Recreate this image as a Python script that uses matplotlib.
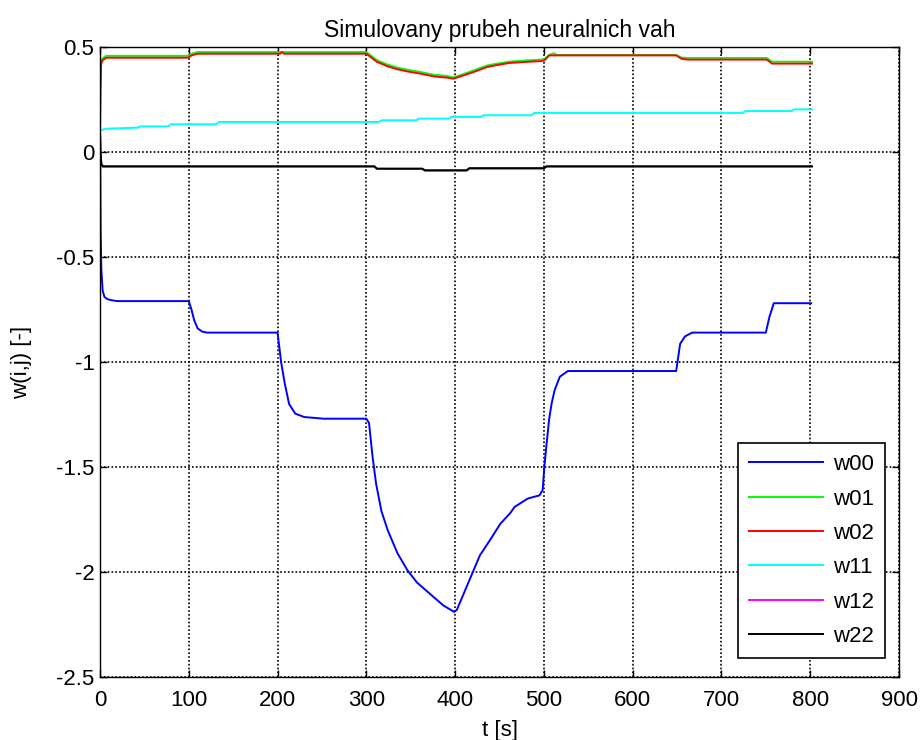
import matplotlib
matplotlib.use('Agg')
import matplotlib.pyplot as plt

plt.rcParams['font.family'] = ['Liberation Sans', 'DejaVu Sans']

# values (time [s] -> weight)
t_w00 = [0, 0.3, 0.7, 1.5, 3, 5, 8, 12, 19, 100, 103, 106, 110, 115, 120,
         200, 202, 204, 208, 213, 220, 230, 252, 300, 303, 307, 311, 317, 324,
         335, 346, 357, 376, 387, 399, 402, 417, 428, 439, 451, 462, 467, 482,
         495, 498.6, 500.5, 503.5, 506, 508.6, 512, 518, 527, 649, 653.5, 659,
         667, 750, 754, 759, 801]
w00 = [0.1, -0.04, -0.37, -0.56, -0.66, -0.69, -0.70, -0.705, -0.71, -0.71,
       -0.75, -0.80, -0.84, -0.855, -0.86, -0.86, -0.93, -1.0, -1.10, -1.2,
       -1.246, -1.262, -1.27, -1.27, -1.29, -1.45, -1.58, -1.71, -1.80, -1.91,
       -1.99, -2.05, -2.12, -2.16, -2.19, -2.18, -2.03, -1.92, -1.85, -1.77,
       -1.72, -1.69, -1.65, -1.635, -1.61, -1.5, -1.37, -1.27, -1.2, -1.135,
       -1.07, -1.043, -1.043, -0.913, -0.878, -0.86, -0.86, -0.786, -0.72, -0.72]

t_w01 = [0, 0.5, 1.3, 3, 7, 99, 103, 110, 300, 305, 312, 324, 335, 346, 361,
         376, 391, 398, 406, 421, 436, 446, 461, 480, 497, 500.5, 506, 511, 515,
         649, 655, 662, 751, 757, 802]
w01 = [0.1, 0.31, 0.43, 0.447, 0.458, 0.458, 0.468, 0.476, 0.476, 0.46, 0.437,
       0.416, 0.402, 0.392, 0.381, 0.368, 0.362, 0.355, 0.366, 0.389, 0.412,
       0.42, 0.43, 0.436, 0.44, 0.443, 0.462, 0.47, 0.462, 0.462, 0.45, 0.448,
       0.448, 0.43, 0.43]

t_w02 = [0, 0.5, 1.3, 3, 7, 99, 103, 110, 203, 205, 207, 300, 305, 312, 324,
         335, 346, 361, 376, 391, 398, 406, 421, 436, 446, 461, 480, 497, 500.5,
         506, 649, 655, 662, 751, 757, 802]
w02 = [0.1, 0.3, 0.42, 0.437, 0.449, 0.449, 0.46, 0.468, 0.468, 0.476, 0.468,
       0.468, 0.452, 0.429, 0.408, 0.394, 0.384, 0.373, 0.360, 0.354, 0.349,
       0.360, 0.381, 0.405, 0.413, 0.424, 0.429, 0.433, 0.436, 0.46, 0.46,
       0.444, 0.44, 0.44, 0.421, 0.421]

t_w11 = [0, 7, 43, 45, 77, 80, 131, 134, 314, 317, 356, 359, 393, 396, 429,
         432, 486, 489, 724, 727, 779, 782, 802]
w11 = [0.103, 0.111, 0.116, 0.122, 0.122, 0.132, 0.132, 0.143, 0.143, 0.151,
       0.151, 0.159, 0.159, 0.167, 0.167, 0.175, 0.175, 0.186, 0.186, 0.195,
       0.195, 0.203, 0.203]

t_w12 = [0, 0.5, 1.5, 3, 309, 312, 363, 366, 413, 416, 500, 503, 802]
w12 = [0.1, 0.0, -0.057, -0.07, -0.07, -0.081, -0.081, -0.089, -0.089,
       -0.079, -0.079, -0.07, -0.07]

t_w22 = [0, 0.5, 1.5, 3, 309, 312, 363, 366, 413, 416, 500, 503, 802]
w22 = [0.1, 0.0, -0.055, -0.068, -0.068, -0.079, -0.079, -0.087, -0.087,
       -0.077, -0.077, -0.068, -0.068]

x_ticks = [0, 100, 200, 300, 400, 500, 600, 700, 800, 900]
y_ticks = [-2.5, -2, -1.5, -1, -0.5, 0, 0.5]
y_labels = ['-2.5', '-2', '-1.5', '-1', '-0.5', '0', '0.5']

fig = plt.figure(figsize=(9.21, 7.4), dpi=100)
ax = fig.add_axes([100 / 921, 1 - 677 / 740, 799 / 921, 630 / 740])

lw = 1.4
ax.plot(t_w00, w00, color=(0, 0, 1), lw=lw, label='w00')
ax.plot(t_w01, w01, color=(0, 1, 0), lw=lw, label='w01')
ax.plot(t_w02, w02, color=(1, 0, 0), lw=lw, label='w02')
ax.plot(t_w11, w11, color=(0, 1, 1), lw=lw, label='w11')
ax.plot(t_w12, w12, color=(1, 0, 1), lw=lw, label='w12')
ax.plot(t_w22, w22, color=(0, 0, 0), lw=lw, label='w22')

fs = 16
ax.set_xlim(0, 900)
ax.set_ylim(-2.5, 0.5)
ax.set_xticks(x_ticks)
ax.set_xticklabels([str(v) for v in x_ticks])
ax.set_yticks(y_ticks)
ax.set_yticklabels(y_labels)
ax.tick_params(direction='in', top=True, right=True, length=5, width=1,
               labelsize=fs)
ax.tick_params(axis='x', pad=9)
ax.tick_params(axis='y', pad=4)
ax.grid(True, color='black', linestyle=(0, (1, 1.3)), linewidth=1.2)
for s in ax.spines.values():
    s.set_linewidth(1)

ax.set_title('Simulovany prubeh neuralnich vah', fontsize=16.5, pad=7)
ax.set_xlabel('t [s]', fontsize=fs, labelpad=7)
ax.set_ylabel('w(i,j) [-]', fontsize=fs, labelpad=17)

leg = ax.legend(loc='lower right', bbox_to_anchor=(885 / 921, 1 - 658 / 740),
                bbox_transform=fig.transFigure, borderaxespad=0,
                fontsize=fs, handlelength=3.33, handletextpad=0.45,
                labelspacing=0.6, borderpad=0.5, fancybox=False,
                framealpha=1, edgecolor='black')
leg.get_frame().set_linewidth(1.2)

fig.savefig('out.png', dpi=100)
